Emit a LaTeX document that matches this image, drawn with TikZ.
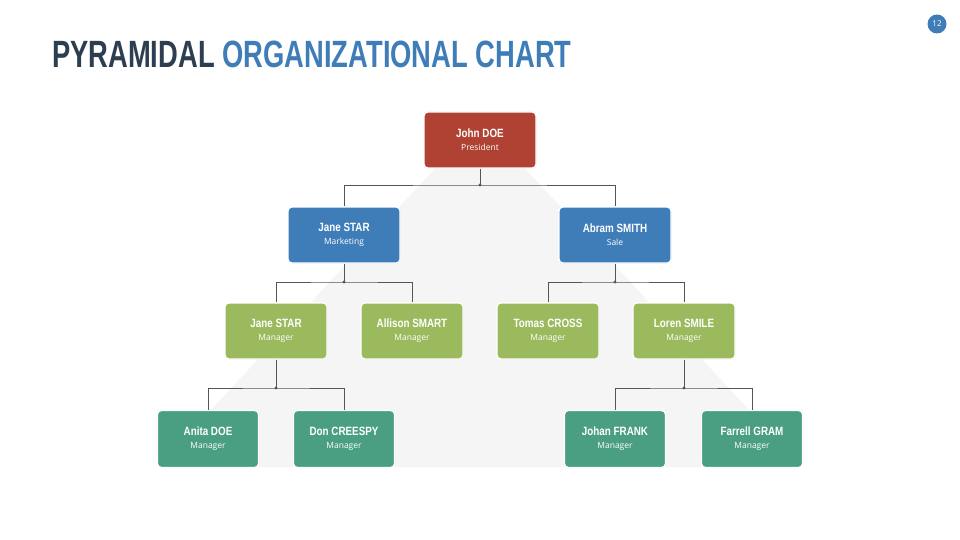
\documentclass[tikz,border=0pt]{standalone}
\usepackage{fontspec}
\setmainfont{Open Sans}
\newfontfamily\headfont{Liberation Sans}
\usetikzlibrary{positioning,shadows}
\definecolor{titledark}{HTML}{2D3E50}
\definecolor{titleblue}{HTML}{3F7DB8}
\definecolor{presred}{HTML}{B04234}
\definecolor{deptblue}{HTML}{3F7DB8}
\definecolor{mgrgreen}{HTML}{9BBA5E}
\definecolor{staffteal}{HTML}{4A9E82}
\definecolor{linegray}{HTML}{555555}
\newcommand{\person}[2]{{\headfont\bfseries\fontsize{12}{13}\selectfont\scalebox{0.82}[1]{#1}}\\[1pt]{\fontsize{8.5}{10}\selectfont #2}}
\begin{document}
\begin{tikzpicture}[
    x=1pt, y=-1pt,
    box/.style={rectangle, rounded corners=4pt, draw=white, line width=1.2pt, text=white, align=center, inner sep=2pt, drop shadow={opacity=0.15, shadow xshift=0.5pt, shadow yshift=-0.5pt}},
    president/.style={box, fill=presred, minimum width=112pt, minimum height=56pt},
    dept/.style={box, fill=deptblue, minimum width=112pt, minimum height=56pt},
    manager/.style={box, fill=mgrgreen, minimum width=102pt, minimum height=56pt},
    staff/.style={box, fill=staffteal, minimum width=101pt, minimum height=57pt},
    link/.style={linegray, line width=0.5pt},
    joint/.style={circle, fill=linegray, inner sep=1.1pt}
]
    \useasboundingbox (0,0) rectangle (960,540);
    % Background pyramid
    \fill [gray!8] (480,120) -- (802,467) -- (158,467) -- cycle;

    % Title and page number
    \node [anchor=base west, inner sep=0] (title) at (52,68)
        {\headfont\bfseries\fontsize{38}{40}\selectfont\scalebox{0.72}[1]{\textcolor{titledark}{PYRAMIDAL} \textcolor{titleblue}{ORGANIZATIONAL CHART}}};
    \node [circle, fill=titleblue, text=white, minimum size=19pt, inner sep=0, font=\fontsize{8}{8}\selectfont] (page) at (937,24) {12};

    % Top level
    \node [president] (john) at (480,140) {\person{John DOE}{President}};

    % Second level
    \node [dept] (jane) at (344,235) {\person{Jane STAR}{Marketing}};
    \node [dept] (abram) at (615,235) {\person{Abram SMITH}{Sale}};

    % Managers
    \node [manager] (janem) at (276,331) {\person{Jane STAR}{Manager}};
    \node [manager] (allison) at (412,331) {\person{Allison SMART}{Manager}};
    \node [manager] (tomas) at (548,331) {\person{Tomas CROSS}{Manager}};
    \node [manager] (loren) at (684,331) {\person{Loren SMILE}{Manager}};

    % Staff
    \node [staff] (anita) at (208,439) {\person{Anita DOE}{Manager}};
    \node [staff] (don) at (344,439) {\person{Don CREESPY}{Manager}};
    \node [staff] (johan) at (615,439) {\person{Johan FRANK}{Manager}};
    \node [staff] (farrell) at (752,439) {\person{Farrell GRAM}{Manager}};

    % Junctions
    \node [joint] (j1) at (480,185) {};
    \node [joint] (j2) at (344,282) {};
    \node [joint] (j3) at (615,282) {};
    \node [joint] (j4) at (276,388) {};
    \node [joint] (j5) at (684,388) {};

    % Connectors
    \draw [link] (john) -- (j1.center);
    \draw [link] (jane.north) |- (j1.center) -| (abram.north);
    \draw [link] (jane) -- (j2.center);
    \draw [link] (janem.north) |- (j2.center) -| (allison.north);
    \draw [link] (abram) -- (j3.center);
    \draw [link] (tomas.north) |- (j3.center) -| (loren.north);
    \draw [link] (janem) -- (j4.center);
    \draw [link] (anita.north) |- (j4.center) -| (don.north);
    \draw [link] (loren) -- (j5.center);
    \draw [link] (johan.north) |- (j5.center) -| (farrell.north);
\end{tikzpicture}
\end{document}
